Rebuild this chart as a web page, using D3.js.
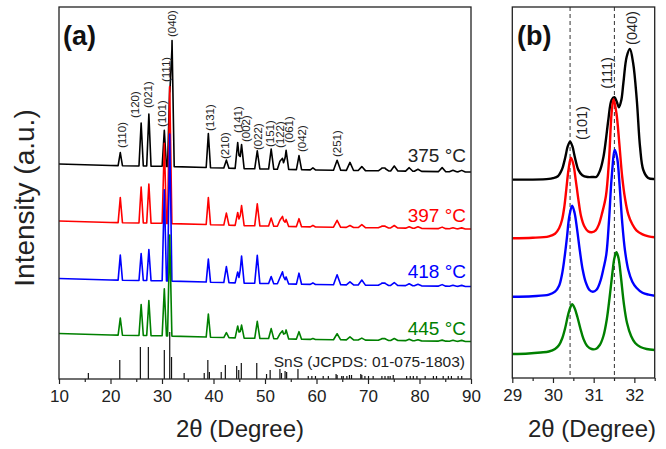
<!DOCTYPE html>
<html><head><meta charset="utf-8">
<script src="https://cdn.jsdelivr.net/npm/d3@7"></script>
<style>
body{margin:0;background:#fff;}
svg{display:block;font-family:"Liberation Sans",Arial,Helvetica,sans-serif;}
</style></head><body>
<svg id="c" width="666" height="449"></svg>
<script>
// ---------------- DATA ----------------
const seriesNames  = ["375 °C", "397 °C", "418 °C", "445 °C"];
const seriesColors = ["#000000", "#ff0000", "#0000ff", "#008000"];

// Panel (a): peak positions (2θ) and peak heights above baseline (a.u.)
const peakPos = [21.9, 25.95, 27.45, 30.45, 31.5, 31.95, 39.0, 42.5, 44.7, 45.45, 48.5, 51.2, 52.9, 53.4, 54.1, 56.6, 59.3, 64.0, 66.5, 68.8, 72.7, 73.3, 75.1, 78.0, 79.7, 84.4, 86.5, 88.2];
const int375 = [13, 43, 52, 36, 80, 126, 34, 8, 26, 24, 18, 20, 8, 11, 19, 14, 2, 10, 8, 4, 2.5, 2.5, 5, 3.5, 2, 4, 1.5, 1.5];
const int397 = [25, 36, 39, 80, 137, 0, 27, 12, 13, 20, 22, 8, 6, 10, 7, 8, 1.5, 7, 2, 3, 1.5, 1.5, 2.5, 1.5, 1.5, 1.5, 1, 1];
const int418 = [25, 27, 31, 91, 147, 0, 23, 16, 11, 27, 28, 7, 6, 12, 7, 11, 1.5, 10, 3, 5, 2, 2, 3, 2, 1.5, 1.5, 1, 1];
const int445 = [17, 31, 35, 47, 101, 0, 23, 5, 12, 13, 17, 10, 5, 8, 9, 7.5, 1, 6, 3, 2, 1.5, 1.5, 2, 1.5, 1, 1, 1, 1];
// stacking offsets (a.u.) and shared background drift
const offsetsA = [213.5, 156.5, 99, 44];
const bgAngle = [10, 20, 30, 45, 60, 90];
const bgLevel = [1.5, 0, -0.8, -3, -4.5, -6.5];

// Reference pattern SnS (JCPDS 01-075-1803)
const refPos = [15.7, 21.8, 25.8, 27.35, 30.45, 31.5, 31.85, 34.3, 38.2, 38.9, 39.2, 41.5, 42.3, 44.5, 44.9, 45.4, 48.4, 50.3, 51.0, 52.9, 53.2, 53.9, 54.2, 56.4, 58.4, 59.1, 59.8, 61.3, 62.3, 63.8, 64.0, 64.9, 65.2, 65.9, 66.4, 66.8, 68.6, 68.8, 69.4, 70.1, 71.0, 72.7, 73.3, 73.9, 74.3, 74.9, 77.5, 78.2, 78.8, 79.5, 81.1, 82.7, 83.3, 84.6, 85.6, 86.2, 87.5, 88.2];
const refInt = [6, 19, 32, 32, 29, 47, 22, 6, 6, 19, 7, 7, 14, 13, 9, 16, 16, 5, 9, 10, 6, 8, 7, 10, 3, 3, 3, 3, 3, 5, 4, 3, 3, 3, 4, 4, 5, 4, 3, 3, 3, 3, 3, 3, 3, 4, 3, 3, 3, 3, 3, 3, 3, 3, 3, 3, 3, 3];

// hkl labels of panel (a): text, 2θ, intensity at label start
const hklText = ["(110)", "(120)", "(021)", "(101)", "(111)", "(040)", "(131)", "(210)", "(141)", "(002)", "(022)", "(151)", "(122)", "(061)", "(042)", "(251)"];
const hklPos  = [22.17, 24.76, 27.24, 29.94, 30.78, 31.88, 39.22, 42.29, 44.66, 46.37, 48.64, 50.97, 52.91, 54.66, 57.13, 64.04];
const hklInt  = [231, 261, 271, 252, 297, 342, 248, 220, 246, 237, 229, 232, 231, 236, 227, 222];

// Panel (b): measured profiles [2θ, intensity above baseline]
const b375 = [[29.0,0.4],[29.5,0.4],[29.9,1.1],[30.0,1.9],[30.12,3.7],[30.22,10.4],[30.28,18.9],[30.32,26],[30.36,33.4],[30.42,38.3],[30.48,33.4],[30.52,26],[30.56,18.9],[30.62,10.4],[30.72,4.8],[30.85,3],[30.98,3],[31.07,3.3],[31.16,10],[31.24,23],[31.3,40],[31.36,60],[31.44,80],[31.51,82.7],[31.57,78],[31.62,72.7],[31.68,80],[31.73,97],[31.81,123],[31.89,131],[31.97,117],[32.06,80],[32.14,33],[32.22,10],[32.34,2],[32.5,1]];
const b397 = [[29.0,0],[29.5,0.5],[29.9,2],[30.05,4.5],[30.15,10],[30.22,18],[30.28,32],[30.33,50],[30.38,68],[30.44,80.6],[30.5,74],[30.56,58],[30.62,40],[30.69,22],[30.77,12],[30.86,7],[30.95,6],[31.05,8],[31.13,14],[31.2,24],[31.3,42],[31.38,80],[31.44,125],[31.49,139],[31.56,125],[31.63,95],[31.7,62],[31.77,40],[31.85,24],[31.95,14],[32.05,8],[32.2,4],[32.35,2],[32.5,1]];
const b418 = [[29.0,0],[29.5,0.5],[29.9,2],[30.05,5],[30.15,11],[30.22,22],[30.28,38],[30.34,58],[30.4,80],[30.47,91],[30.53,84],[30.59,68],[30.66,46],[30.73,27],[30.8,15],[30.89,7],[30.98,5],[31.07,7],[31.16,15],[31.24,28],[31.31,42],[31.38,78],[31.44,118],[31.52,146.7],[31.58,138],[31.64,110],[31.7,75],[31.77,46],[31.85,27],[31.95,15],[32.05,9],[32.2,4],[32.35,2],[32.5,1]];
const b445 = [[29.0,-1],[29.4,-0.5],[29.7,0.5],[29.9,1.5],[30.05,4],[30.15,8],[30.23,15],[30.3,25],[30.37,38],[30.43,46],[30.47,48.7],[30.53,45],[30.6,36],[30.67,25],[30.75,14],[30.84,7],[30.95,4],[31.05,4],[31.15,8],[31.24,17],[31.32,33],[31.39,55],[31.46,80],[31.51,95],[31.56,100.7],[31.61,95],[31.67,76],[31.74,50],[31.82,30],[31.92,17],[32.02,10],[32.15,6],[32.3,4],[32.5,3]];
const offsetsB = [198, 139.7, 81.3, 25];
const dashPos = [30.42, 31.51];
const hklB = ["(101)", "(111)", "(040)"];
const hklBPos = [30.705, 31.33, 31.93];
const hklBInt = [255, 305, 350];

const ticksA = [10, 20, 30, 40, 50, 60, 70, 80, 90];
const minorA = [15, 25, 35, 45, 55, 65, 75, 85];
const ticksB = [29, 30, 31, 32];
const minorB = [29.5, 30.5, 31.5, 32.5];

// ---------------- DRAW ----------------
const svg = d3.select("#c");
const ink = "#222";
const xA = d3.scaleLinear().domain([10, 90]).range([59, 471]);
const yA = d3.scaleLinear().domain([0, 372]).range([379, 7]);
const xB = d3.scaleLinear().domain([29, 32.5]).range([512.3, 654.7]);
const yB = d3.scaleLinear().domain([0, 371]).range([378, 7]);

const allInt = [int375, int397, int418, int445];
const bg = d3.scaleLinear().domain(bgAngle).range(bgLevel);
const hw = p => p < 40 ? 0.42 : (p < 60 ? 0.5 : 0.7);
function profile(heights, offset) {
  const xs = new Set([10, 90, ...bgAngle]);
  peakPos.forEach((p, i) => {
    if (heights[i] > 0) { xs.add(+(p - hw(p)).toFixed(3)); xs.add(p); xs.add(+(p + hw(p)).toFixed(3)); }
  });
  const sorted = [...xs].filter(x => x >= 10 && x <= 90).sort((a, b) => a - b);
  return sorted.map(x => [x, offset + bg(x) + d3.sum(peakPos, (p, i) => heights[i] * Math.max(0, 1 - Math.abs(x - p) / hw(p)))]);
}

// clip paths
const defs = svg.append("defs");
defs.append("clipPath").attr("id", "clipA").append("rect").attr("x", 59).attr("y", 7).attr("width", 412).attr("height", 372);
defs.append("clipPath").attr("id", "clipB").append("rect").attr("x", 512.3).attr("y", 7).attr("width", 142.4).attr("height", 371);

// Panel (a)
const gA = svg.append("g").attr("clip-path", "url(#clipA)");
gA.selectAll("line.ref").data(refPos).join("line")
  .attr("x1", d => xA(d)).attr("x2", d => xA(d))
  .attr("y1", yA(0)).attr("y2", (d, i) => yA(refInt[i]))
  .attr("stroke", "#111").attr("stroke-width", 1.2);

const lineA = d3.line().x(d => xA(d[0])).y(d => yA(d[1]));
allInt.forEach((ints, k) => {
  gA.append("path").attr("d", lineA(profile(ints, offsetsA[k])))
    .attr("fill", "none").attr("stroke", seriesColors[k]).attr("stroke-width", 1.6)
    .attr("stroke-linejoin", "round");
});

svg.selectAll("text.hklA").data(hklText).join("text")
  .attr("transform", (d, i) => `translate(${xA(hklPos[i])},${yA(hklInt[i])}) rotate(-90)`)
  .attr("dy", "0.35em").attr("font-size", 11.5).attr("fill", ink).text(d => d);

const tempBase = [162, 222, 278, 335];
seriesNames.forEach((s, k) => {
  svg.append("text").attr("x", 466).attr("y", tempBase[k]).attr("text-anchor", "end")
    .attr("font-size", 19).attr("fill", seriesColors[k] === "#000000" ? ink : seriesColors[k]).text(s);
});
svg.append("text").attr("x", 465).attr("y", 367).attr("text-anchor", "end")
  .attr("font-size", 15.5).attr("fill", ink).text("SnS (JCPDS: 01-075-1803)");

const axA = d3.axisBottom(xA).tickValues(ticksA).tickSize(5).tickPadding(6).tickFormat(d3.format("d"));
const gaxA = svg.append("g").attr("transform", `translate(0,${yA(0)})`).call(axA);
gaxA.select(".domain").remove();
gaxA.selectAll("line").attr("stroke", ink).attr("stroke-width", 1.2);
gaxA.selectAll("text").attr("font-size", 17).attr("fill", ink).attr("font-family", null);
const gminA = svg.append("g").attr("transform", `translate(0,${yA(0)})`).call(d3.axisBottom(xA).tickValues(minorA).tickSize(3).tickFormat(""));
gminA.select(".domain").remove();
gminA.selectAll("line").attr("stroke", ink).attr("stroke-width", 1.2);
svg.append("rect").attr("x", 59).attr("y", 7).attr("width", 412).attr("height", 372)
  .attr("fill", "none").attr("stroke", ink).attr("stroke-width", 1.3);

svg.append("text").attr("x", 63).attr("y", 45).attr("font-size", 27).attr("font-weight", "bold").attr("fill", "#111").text("(a)");
svg.append("text").attr("x", 240).attr("y", 437).attr("text-anchor", "middle").attr("font-size", 24).attr("fill", ink).text("2θ (Degree)");
svg.append("text").attr("transform", "translate(34,198) rotate(-90)").attr("text-anchor", "middle")
  .attr("font-size", 28).attr("fill", ink).text("Intensity (a.u.)");

// Panel (b)
const gB = svg.append("g").attr("clip-path", "url(#clipB)");
gB.selectAll("line.dash").data(dashPos).join("line")
  .attr("x1", d => xB(d)).attr("x2", d => xB(d)).attr("y1", 7).attr("y2", yB(0))
  .attr("stroke", "#444").attr("stroke-width", 1.1).attr("stroke-dasharray", "4,3");
const lineB = d3.line().curve(d3.curveCatmullRom.alpha(0.5)).x(d => xB(d[0])).y(d => yB(d[1]));
[b375, b397, b418, b445].forEach((arr, k) => {
  gB.append("path").attr("d", lineB(arr.map(d => [d[0], d[1] + offsetsB[k]])))
    .attr("fill", "none").attr("stroke", seriesColors[k]).attr("stroke-width", 2.4)
    .attr("stroke-linejoin", "round");
});
svg.selectAll("text.hklB").data(hklB).join("text")
  .attr("transform", (d, i) => `translate(${xB(hklBPos[i])},${yB(hklBInt[i])}) rotate(-90)`)
  .attr("dy", "0.35em").attr("text-anchor", "middle").attr("font-size", 14.5).attr("fill", ink).text(d => d);

const axB = d3.axisBottom(xB).tickValues(ticksB).tickSize(5).tickPadding(6).tickFormat(d3.format("d"));
const gaxB = svg.append("g").attr("transform", `translate(0,${yB(0)})`).call(axB);
gaxB.select(".domain").remove();
gaxB.selectAll("line").attr("stroke", ink).attr("stroke-width", 1.2);
gaxB.selectAll("text").attr("font-size", 17).attr("fill", ink).attr("font-family", null);
const gminB = svg.append("g").attr("transform", `translate(0,${yB(0)})`).call(d3.axisBottom(xB).tickValues(minorB).tickSize(3).tickFormat(""));
gminB.select(".domain").remove();
gminB.selectAll("line").attr("stroke", ink).attr("stroke-width", 1.2);
svg.append("rect").attr("x", 512.3).attr("y", 7).attr("width", 142.4).attr("height", 371)
  .attr("fill", "none").attr("stroke", ink).attr("stroke-width", 1.3);
svg.append("text").attr("x", 517).attr("y", 45).attr("font-size", 27).attr("font-weight", "bold").attr("fill", "#111").text("(b)");
svg.append("text").attr("x", 592).attr("y", 437).attr("text-anchor", "middle").attr("font-size", 24).attr("fill", ink).text("2θ (Degree)");
</script>
</body></html>
